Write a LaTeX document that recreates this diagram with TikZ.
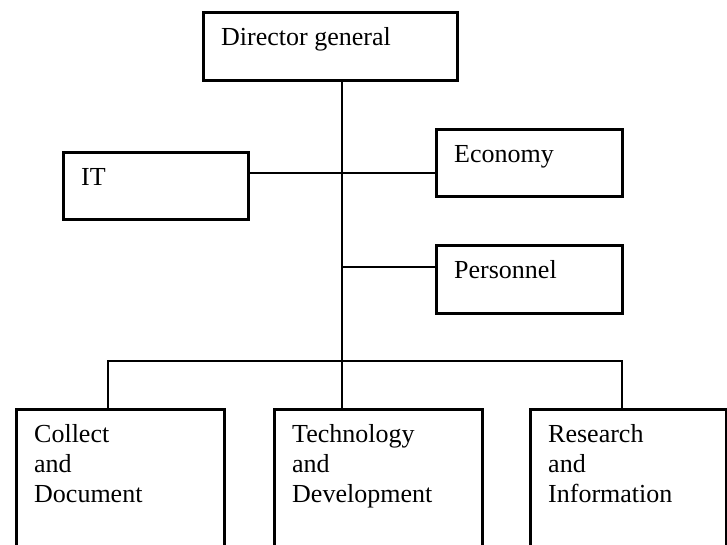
\documentclass[tikz,border=0pt]{standalone}
\usepackage{fontspec}
\setmainfont{Liberation Serif}
\tikzset{
  orgbox/.style={draw,line width=3pt,anchor=north west,inner sep=0pt},
  orgtext/.style={anchor=north west,inner sep=0pt,align=left,font=\fontsize{26}{30}\selectfont},
  orglink/.style={line width=1.3pt}
}

\begin{document}
\begin{tikzpicture}[x=1pt,y=-1pt]
\useasboundingbox (0,0) rectangle (727,545);
\clip (0,0) rectangle (727,545);
\node[orgbox,minimum width=254pt,minimum height=68pt] (dg) at (202,11) {};
\node[orgbox,minimum width=185pt,minimum height=67pt] (it) at (62,151) {};
\node[orgbox,minimum width=186pt,minimum height=67pt] (eco) at (435,128) {};
\node[orgbox,minimum width=186pt,minimum height=68pt] (per) at (435,244) {};
\node[orgbox,minimum width=208pt,minimum height=200pt] (cd) at (15,408) {};
\node[orgbox,minimum width=208pt,minimum height=200pt] (td) at (273,408) {};
\node[orgbox,minimum width=196pt,minimum height=200pt] (ri) at (529,408) {};
\node[orgtext] (dgt) at ([shift={(19,13)}]dg.north west) {\strut Director general};
\node[orgtext] (itt) at ([shift={(19,13)}]it.north west) {\strut IT};
\node[orgtext] (ecot) at ([shift={(19,13)}]eco.north west) {\strut Economy};
\node[orgtext] (pert) at ([shift={(19,13)}]per.north west) {\strut Personnel};
\node[orgtext] (cdt) at ([shift={(19,13)}]cd.north west) {\strut Collect\\and\\Document};
\node[orgtext] (tdt) at ([shift={(19,13)}]td.north west) {\strut Technology\\and\\Development};
\node[orgtext] (rit) at ([shift={(19,13)}]ri.north west) {\strut Research\\and\\Information};
\coordinate (hub) at (342,361);
\coordinate (j1) at (342,173);
\coordinate (j2) at (342,267);
\coordinate (bl) at (108,361);
\coordinate (br) at (622,361);
\draw[orglink] (dg.south -| hub) -- (hub);
\draw[orglink] (it.east |- j1) -- (eco.west |- j1);
\draw[orglink] (j2) -- (per.west |- j2);
\draw[orglink] (cd.north -| bl) -- (bl) -- (br) -- (ri.north -| br);
\draw[orglink] (hub) -- (td.north -| hub);
\end{tikzpicture}
\end{document}
